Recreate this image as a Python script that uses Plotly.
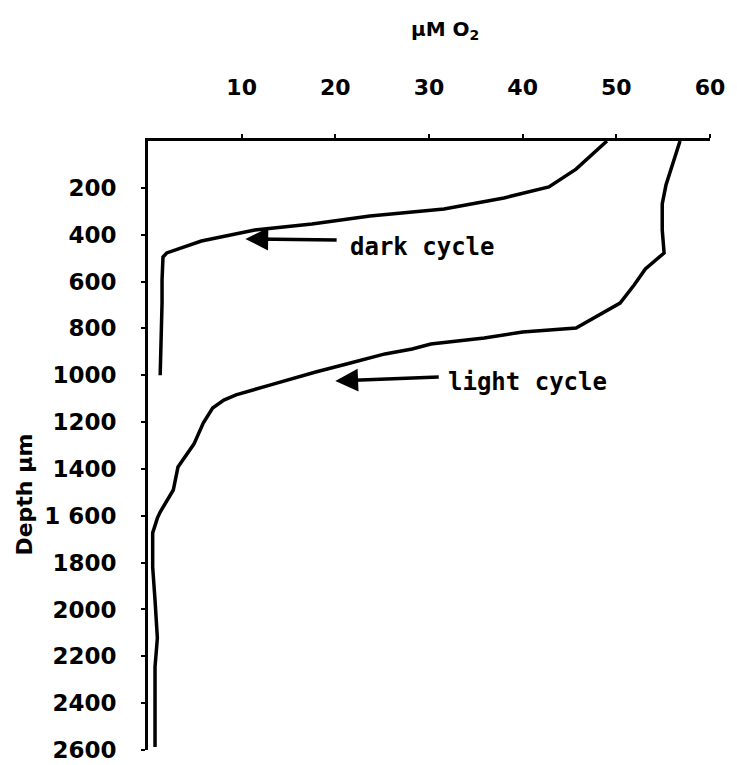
import plotly.graph_objects as go

# Dark cycle profile (µM O2 vs depth µm)
dark_o2 = [49.0, 45.7, 42.8, 38.0, 31.6, 23.7, 17.5, 11.4, 5.7, 2.0, 1.6, 1.5, 1.5, 1.4, 1.3]
dark_depth = [0, 120, 196, 243, 290, 320, 354, 380, 427, 478, 495, 593, 691, 798, 1000]

# Light cycle profile
light_o2 = [56.8, 56.2, 55.3, 54.9, 54.9, 55.1, 53.1, 51.9, 50.4, 45.7, 42.9, 40.0, 35.9, 30.2,
            28.2, 25.3, 21.2, 17.9, 13.0, 9.4, 8.1, 6.9, 5.9, 4.9, 3.2, 2.7, 1.3, 1.0, 0.5,
            0.5, 0.75, 1.0, 0.75, 0.75, 0.75]
light_depth = [0, 77, 188, 269, 380, 478, 546, 615, 692, 798, 807, 815, 841, 867,
               888, 909, 952, 986, 1042, 1084, 1106, 1140, 1204, 1294, 1392, 1490, 1584, 1610, 1673,
               1819, 1960, 2122, 2245, 2386, 2587]

x_ticks = [10, 20, 30, 40, 50, 60]
y_ticks = [200, 400, 600, 800, 1000, 1200, 1400, 1600, 1800, 2000, 2200, 2400, 2600]
y_ticktext = ["200", "400", "600", "800", "1000", "1200", "1400", "1 600", "1800",
              "2000", "2200", "2400", "2600"]

FONT = "DejaVu Sans"

fig = go.Figure()
fig.add_trace(go.Scatter(x=dark_o2, y=dark_depth, mode="lines",
                         line=dict(color="black", width=3.5), showlegend=False))
fig.add_trace(go.Scatter(x=light_o2, y=light_depth, mode="lines",
                         line=dict(color="black", width=3.5), showlegend=False))

fig.update_xaxes(range=[0, 60], side="top", showline=True, linecolor="black", linewidth=3,
                 showgrid=False, zeroline=False, tickvals=x_ticks, automargin=False,
                 ticks="outside", ticklen=4, tickwidth=2, tickcolor="black",
                 ticklabelstandoff=30,
                 tickfont=dict(family=FONT, size=22, color="black", weight="bold"))
fig.update_yaxes(range=[2600, 0], showline=True, linecolor="black", linewidth=3,
                 showgrid=False, zeroline=False, tickvals=y_ticks, ticktext=y_ticktext,
                 automargin=False,
                 ticks="outside", ticklen=4, tickwidth=2, tickcolor="black",
                 ticklabelstandoff=20,
                 tickfont=dict(family=FONT, size=23, color="black", weight="bold"))

ann_font = dict(family="DejaVu Sans Mono", size=24, color="black", weight="bold")
# arrows
fig.add_annotation(x=10.4, y=418, ax=20.3, ay=423, xref="x", yref="y", axref="x", ayref="y",
                   text="", showarrow=True, arrowhead=2, arrowsize=1.3, arrowwidth=3.5,
                   arrowcolor="black")
fig.add_annotation(x=20.0, y=1025, ax=31.2, ay=1007, xref="x", yref="y", axref="x", ayref="y",
                   text="", showarrow=True, arrowhead=2, arrowsize=1.3, arrowwidth=3.5,
                   arrowcolor="black")
fig.add_annotation(x=21.4, y=452, xref="x", yref="y", text="dark cycle", showarrow=False,
                   xanchor="left", yanchor="middle", font=ann_font)
fig.add_annotation(x=31.8, y=1030, xref="x", yref="y", text="light cycle", showarrow=False,
                   xanchor="left", yanchor="middle", font=ann_font)

# axis titles
fig.add_annotation(x=0.528, y=1.182, xref="paper", yref="paper", text="µM O<sub>2</sub>",
                   showarrow=False, xanchor="center", yanchor="middle",
                   font=dict(family=FONT, size=20, color="black", weight="bold"))
fig.add_annotation(x=-0.22, y=0.42, xref="paper", yref="paper", text="Depth µm",
                   textangle=-90, showarrow=False, xanchor="center", yanchor="middle",
                   font=dict(family=FONT, size=22, color="black", weight="bold"))

fig.update_layout(width=737, height=765, margin=dict(l=148, r=27, t=141, b=15),
                  paper_bgcolor="white", plot_bgcolor="white")

fig.write_html("out.html", config={"displayModeBar": False},
               post_script="document.body.style.margin='0px';document.body.style.overflow='hidden';")
